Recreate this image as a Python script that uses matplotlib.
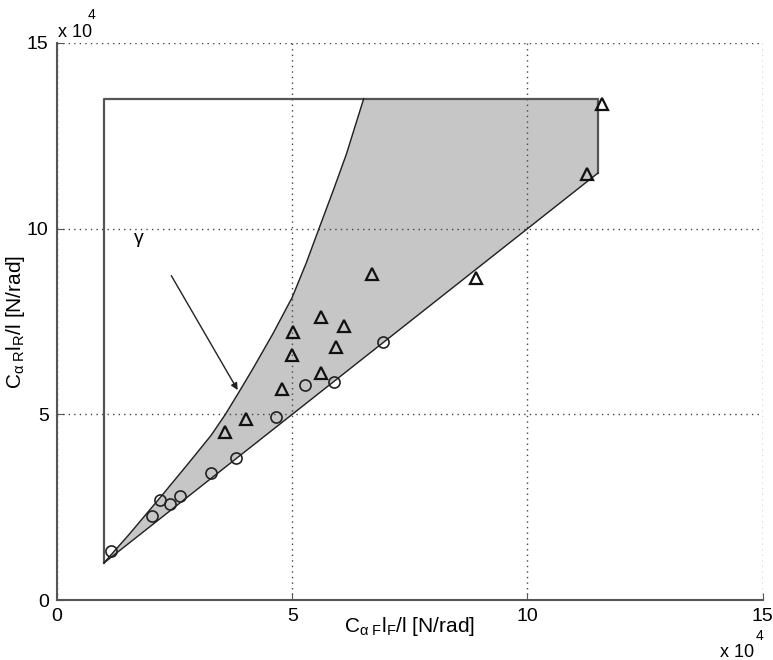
import numpy as np
import matplotlib.pyplot as plt

plt.rcParams['font.family'] = ['Liberation Sans', 'DejaVu Sans']
plt.rcParams['mathtext.fontset'] = 'custom'
plt.rcParams['mathtext.rm'] = 'Liberation Sans'
plt.rcParams['mathtext.it'] = 'Liberation Sans'

# all values in units of 10^4 N/rad
# upper boundary curve (gamma) of the feasible region
upper_x = [1.0, 1.55, 2.26, 2.82, 3.28, 3.58, 3.85, 4.17, 4.59, 5.0, 5.30, 5.56, 5.87, 6.15, 6.52]
upper_y = [1.0, 1.79, 2.86, 3.72, 4.44, 5.0, 5.56, 6.24, 7.17, 8.15, 9.08, 9.97, 11.02, 12.0, 13.5]
# lower boundary and box limits
lower_x = [1.0, 11.5]
lower_y = [1.0, 11.5]
x_min, x_max = 1.0, 11.5
y_top = 13.5

# measured vehicles
circ_x = [1.15, 2.02, 2.19, 2.41, 2.62, 3.28, 3.81, 4.66, 5.28, 5.89, 6.93]
circ_y = [1.33, 2.27, 2.70, 2.58, 2.81, 3.41, 3.82, 4.94, 5.80, 5.88, 6.95]
tri_x = [3.58, 4.01, 4.79, 4.99, 5.02, 5.62, 6.10, 5.94, 5.62, 6.69, 8.91, 11.26, 11.58]
tri_y = [4.52, 4.88, 5.69, 6.60, 7.22, 7.61, 7.39, 6.80, 6.11, 8.79, 8.68, 11.46, 13.36]

ticks = [0, 5, 10, 15]

fig = plt.figure(figsize=(7.73, 6.6), dpi=100)
ax = fig.add_axes([0.0737, 0.0909, 0.913, 0.844])

# shaded region
poly_x = upper_x + [x_max, x_max] + lower_x[::-1]
poly_y = upper_y + [y_top, lower_y[1]] + lower_y[::-1]
ax.fill(poly_x, poly_y, color='#c6c6c6', zorder=1)

# box
ax.plot([x_min, x_min, x_max, x_max], [lower_y[0], y_top, y_top, lower_y[1]],
        color='#555555', lw=1.6, zorder=2)
ax.plot(upper_x, upper_y, color='#222222', lw=1.0, zorder=3)
ax.plot(lower_x, lower_y, color='#222222', lw=1.0, zorder=3)

ax.plot(circ_x, circ_y, 'o', ms=8, mfc='none', mec='#222222', mew=1.2, zorder=4)
ax.plot(tri_x, tri_y, '^', ms=9, mfc='none', mec='#111111', mew=1.6, zorder=4)

ax.annotate('', xy=(3.87, 5.59), xytext=(2.40, 8.80),
            arrowprops=dict(arrowstyle='-|>', color='#222222', lw=1.0,
                            mutation_scale=10))
ax.text(1.73, 9.7, r'$\gamma$', fontsize=14, ha='center', va='center')

ax.set_xlim(0, 15)
ax.set_ylim(0, 15)
ax.set_xticks(ticks)
ax.set_yticks(ticks)
ax.tick_params(direction='in', length=5, labelsize=14, color='#555555', pad=6)
ax.grid(True, linestyle=(0, (1, 3)), color='#444444', lw=1.0)
for s in ['top', 'right']:
    ax.spines[s].set_visible(False)
for s in ['left', 'bottom']:
    ax.spines[s].set_color('#555555')
    ax.spines[s].set_linewidth(1.5)

ax.set_xlabel(r'$\mathregular{C_{\alpha\ F}l_F/l}$ [N/rad]', fontsize=15)
ax.set_ylabel(r'$\mathregular{C_{\alpha\ R}l_R/l}$ [N/rad]', fontsize=15)
ax.xaxis.set_label_coords(0.5, -0.027)
ax.yaxis.set_label_coords(-0.042, 0.5)

# MATLAB style exponent labels
fig.text(0.075, 0.944, 'x 10', fontsize=13)
fig.text(0.114, 0.971, '4', fontsize=10)
fig.text(0.932, 0.005, 'x 10', fontsize=13)
fig.text(0.978, 0.03, '4', fontsize=10)

fig.savefig('out.png', dpi=100)
